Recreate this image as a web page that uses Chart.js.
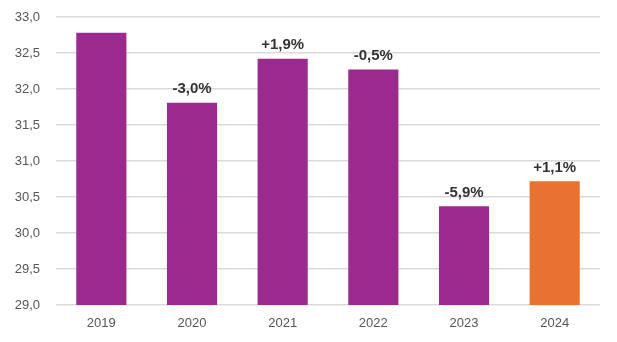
<!DOCTYPE html>
<html>
<head>
<meta charset="utf-8">
<script src="https://cdn.jsdelivr.net/npm/chart.js@4/dist/chart.umd.min.js"></script>
<style>
  html, body { margin: 0; padding: 0; background: #ffffff; }
  #wrap { width: 617px; height: 342px; position: relative; }
</style>
</head>
<body>
<div id="wrap"><canvas id="chart"></canvas></div>
<script>
// Yearly values (2019–2024) and the year-on-year change printed above each bar
const years = ['2019', '2020', '2021', '2022', '2023', '2024'];
const values = [32.78, 31.81, 32.42, 32.27, 30.37, 30.72];
const changeLabels = ['', '-3,0%', '+1,9%', '-0,5%', '-5,9%', '+1,1%'];
const barColors = ['#9C2A8E', '#9C2A8E', '#9C2A8E', '#9C2A8E', '#9C2A8E', '#E8722F'];

// Prints the change label centred above each bar
const changeLabelPlugin = {
  id: 'changeLabels',
  afterDatasetsDraw(chart) {
    const ctx = chart.ctx;
    const meta = chart.getDatasetMeta(0);
    ctx.save();
    ctx.font = 'bold 15px "Liberation Sans", Arial, sans-serif';
    ctx.fillStyle = '#333333';
    ctx.textAlign = 'center';
    ctx.textBaseline = 'bottom';
    meta.data.forEach((bar, i) => {
      const text = changeLabels[i];
      if (!text) return;
      ctx.fillText(text, bar.x, bar.y - 6);
    });
    ctx.restore();
  }
};

new Chart(document.getElementById('chart'), {
  type: 'bar',
  data: {
    labels: years,
    datasets: [{
      data: values,
      backgroundColor: barColors,
      borderWidth: 0,
      barPercentage: 0.553,
      categoryPercentage: 1.0
    }]
  },
  options: {
    responsive: true,
    maintainAspectRatio: false,
    animation: false,
    layout: { padding: { top: 17, right: 17, left: 0, bottom: 0 } },
    plugins: {
      legend: { display: false },
      tooltip: { enabled: false }
    },
    scales: {
      x: {
        grid: { display: false, drawTicks: false },
        border: { display: false },
        ticks: {
          color: '#555555',
          font: { family: '"Liberation Sans", Arial, sans-serif', size: 13 },
          padding: 11
        },
        afterFit(scale) { scale.height = 37; }
      },
      y: {
        min: 29,
        max: 33,
        grid: { color: '#d9d9d9', lineWidth: 1.5, drawTicks: false },
        border: { display: false },
        ticks: {
          stepSize: 0.5,
          color: '#555555',
          font: { family: '"Liberation Sans", Arial, sans-serif', size: 13 },
          padding: 16,
          callback: (v) => v.toFixed(1).replace('.', ',')
        },
        afterFit(scale) {
          scale.width = 56;
          scale.paddingTop = 0;
          scale.paddingBottom = 0;
        }
      }
    }
  },
  plugins: [changeLabelPlugin]
});
</script>
</body>
</html>
